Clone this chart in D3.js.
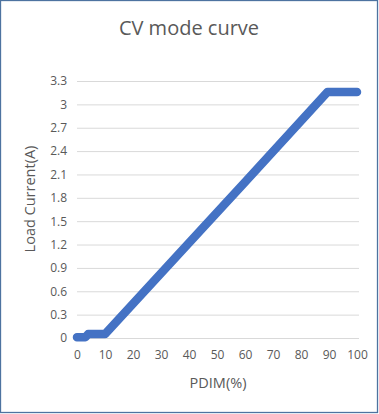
<!DOCTYPE html>
<html>
<head>
<meta charset="utf-8">
<script src="https://cdn.jsdelivr.net/npm/d3@7"></script>
<style>
  body { margin: 0; background: #fff; }
  text { font-family: "Open Sans", "Liberation Sans", sans-serif; }
</style>
</head>
<body>
<svg id="mainsvg" width="379" height="414"></svg>
<script>
// readings
const pdim = [0, 3, 4, 10, 40, 60, 89.5, 100];
const current = [0.01, 0.01, 0.05, 0.05, 1.22, 2.0, 3.16, 3.16];
const xTicks = [0, 10, 20, 30, 40, 50, 60, 70, 80, 90, 100];
const yTicks = [0, 0.3, 0.6, 0.9, 1.2, 1.5, 1.8, 2.1, 2.4, 2.7, 3, 3.3];

const svg = d3.select('#mainsvg');
const width = +svg.attr('width');
const height = +svg.attr('height');
const margin = { top: 81, right: 20, bottom: 76, left: 77 };
const innerWidth = 357 - margin.left;
const innerHeight = 338 - margin.top;

svg.append('rect')
    .attr('x', 0.5).attr('y', 0.5)
    .attr('width', width - 2).attr('height', height - 2)
    .attr('fill', '#fff')
    .attr('stroke', '#4d73a0')
    .attr('stroke-width', 1.3);

const xScale = d3.scaleLinear().domain([0, 100]).range([0, innerWidth]);
const yScale = d3.scaleLinear().domain([0, 3.3]).range([innerHeight, 0]);

const g = svg.append('g')
    .attr('transform', `translate(${margin.left}, ${margin.top})`);

// gridlines
const yAxis = d3.axisLeft(yScale)
    .tickValues(yTicks)
    .tickSize(-(innerWidth + 2))
    .tickPadding(10)
    .tickFormat(d => d3.format('~g')(d));
const gy = g.append('g').call(yAxis);
gy.select('.domain').remove();
gy.selectAll('.tick line').attr('stroke', '#d9d9d9').attr('stroke-width', 1);
gy.selectAll('.tick text').attr('fill', '#595959').attr('font-size', '12px');

const xAxis = d3.axisBottom(xScale)
    .tickValues(xTicks)
    .tickSize(0)
    .tickPadding(12);
const gx = g.append('g').attr('transform', `translate(0, ${innerHeight})`).call(xAxis);
gx.select('.domain').remove();
gx.selectAll('.tick text').attr('fill', '#595959').attr('font-size', '12px');

const points = pdim.map((p, i) => [p, current[i]]);
const line = d3.line().x(d => xScale(d[0])).y(d => yScale(d[1]));
g.append('path')
    .datum(points)
    .attr('d', line)
    .attr('fill', 'none')
    .attr('stroke', '#4472c4')
    .attr('stroke-width', 8.5)
    .attr('stroke-linecap', 'round')
    .attr('stroke-linejoin', 'round');

svg.append('text').text('CV mode curve')
    .attr('x', 189).attr('y', 35)
    .attr('text-anchor', 'middle')
    .attr('font-size', '20px')
    .attr('fill', '#595959');

svg.append('text').text('PDIM(%)')
    .attr('x', 218).attr('y', 388)
    .attr('text-anchor', 'middle')
    .attr('font-size', '14.5px')
    .attr('fill', '#595959');

svg.append('text').text('Load Current(A)')
    .attr('transform', 'translate(35, 199) rotate(-90)')
    .attr('text-anchor', 'middle')
    .attr('font-size', '14.5px')
    .attr('fill', '#595959');
</script>
</body>
</html>
